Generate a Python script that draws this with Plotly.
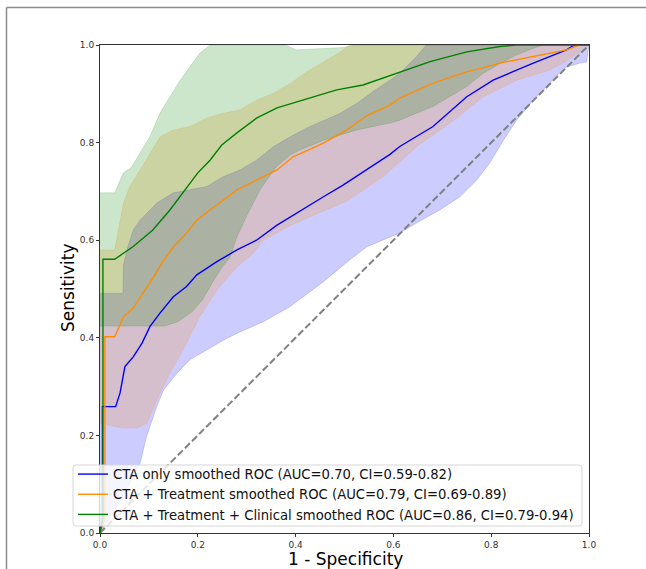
import plotly.graph_objects as go

# ---------------- data ----------------
labels = [
    "CTA only smoothed ROC (AUC=0.70, CI=0.59-0.82)",
    "CTA + Treatment smoothed ROC (AUC=0.79, CI=0.69-0.89)",
    "CTA + Treatment + Clinical smoothed ROC (AUC=0.86, CI=0.79-0.94)",
]
tick_vals = [0, 0.2, 0.4, 0.6, 0.8, 1.0]
tick_text = ["0.0", "0.2", "0.4", "0.6", "0.8", "1.0"]

# CTA only (blue)
blue_fpr = [0, 0.005, 0.005, 0.032, 0.041, 0.051, 0.068, 0.086, 0.102, 0.123, 0.15, 0.177, 0.198, 0.239, 0.28,
            0.32, 0.362, 0.402, 0.457, 0.497, 0.545, 0.593, 0.613, 0.681, 0.75, 0.804, 0.886, 0.954, 0.97, 1.0]
blue_tpr = [0, 0.03, 0.259, 0.259, 0.287, 0.341, 0.361, 0.389, 0.423, 0.451, 0.484, 0.505, 0.529, 0.556, 0.58,
            0.6, 0.631, 0.656, 0.689, 0.713, 0.744, 0.776, 0.792, 0.833, 0.894, 0.928, 0.963, 0.99, 1.0, 1.0]
blue_hi_fpr = [0, 0.047, 0.048, 0.058, 0.068, 0.082, 0.102, 0.116, 0.15, 0.184, 0.218, 0.252, 0.286, 0.32, 0.355,
               0.389, 0.423, 0.457, 0.491, 0.525, 0.559, 0.593, 0.613, 0.647, 0.667, 1.0]
blue_hi_tpr = [0.491, 0.491, 0.55, 0.59, 0.621, 0.641, 0.662, 0.676, 0.697, 0.703, 0.71, 0.73, 0.744, 0.764, 0.792,
               0.812, 0.83, 0.845, 0.86, 0.88, 0.905, 0.928, 0.942, 0.976, 1.0, 1.0]
blue_lo_fpr = [0, 0.02, 0.05, 0.07, 0.082, 0.095, 0.116, 0.13, 0.157, 0.184, 0.218, 0.252, 0.286, 0.334, 0.389,
               0.409, 0.457, 0.511, 0.545, 0.613, 0.647, 0.695, 0.736, 0.77, 0.797, 0.825, 0.852, 0.886, 0.92,
               0.94, 0.954, 0.982, 0.995, 1.0]
blue_lo_tpr = [0, 0.03, 0.08, 0.12, 0.143, 0.197, 0.259, 0.293, 0.327, 0.355, 0.375, 0.395, 0.412, 0.433, 0.464,
               0.48, 0.515, 0.56, 0.586, 0.615, 0.635, 0.662, 0.689, 0.723, 0.758, 0.805, 0.846, 0.887, 0.922,
               0.943, 0.955, 0.963, 0.965, 1.0]

# CTA + Treatment (orange)
orange_fpr = [0, 0.01, 0.01, 0.03, 0.048, 0.068, 0.088, 0.108, 0.126, 0.15, 0.177, 0.198, 0.225, 0.252, 0.28,
              0.32, 0.362, 0.395, 0.457, 0.505, 0.545, 0.593, 0.613, 0.681, 0.75, 0.818, 0.886, 0.954, 0.98, 1.0]
orange_tpr = [0, 0.03, 0.402, 0.402, 0.443, 0.461, 0.492, 0.522, 0.553, 0.586, 0.615, 0.641, 0.662, 0.682, 0.703,
              0.723, 0.744, 0.771, 0.799, 0.826, 0.855, 0.877, 0.891, 0.922, 0.945, 0.963, 0.976, 0.99, 1.0, 1.0]
orange_hi_fpr = [0, 0.03, 0.048, 0.061, 0.082, 0.102, 0.123, 0.15, 0.184, 0.218, 0.252, 0.286, 0.32, 0.355,
                 0.389, 0.423, 0.457, 0.491, 0.51, 1.0]
orange_hi_tpr = [0.58, 0.58, 0.676, 0.71, 0.744, 0.778, 0.812, 0.826, 0.833, 0.85, 0.86, 0.867, 0.887, 0.901,
                 0.921, 0.945, 0.965, 0.985, 1.0, 1.0]
orange_lo_fpr = [0, 0.047, 0.076, 0.096, 0.116, 0.143, 0.17, 0.204, 0.239, 0.28, 0.313, 0.334, 0.389, 0.457,
                 0.505, 0.579, 0.648, 0.716, 0.784, 0.852, 0.92, 0.947, 0.98, 1.0]
orange_lo_tpr = [0.225, 0.215, 0.215, 0.225, 0.272, 0.328, 0.375, 0.443, 0.498, 0.545, 0.573, 0.6, 0.63, 0.66,
                 0.68, 0.73, 0.792, 0.84, 0.894, 0.928, 0.949, 0.963, 0.985, 1.0]

# CTA + Treatment + Clinical (green)
green_fpr = [0, 0.006, 0.006, 0.03, 0.068, 0.108, 0.143, 0.174, 0.2, 0.225, 0.249, 0.28, 0.32, 0.362, 0.416,
             0.484, 0.538, 0.593, 0.675, 0.75, 0.818, 0.85, 1.0]
green_tpr = [0, 0.03, 0.561, 0.561, 0.587, 0.621, 0.662, 0.703, 0.738, 0.764, 0.795, 0.82, 0.85, 0.871, 0.887,
             0.908, 0.918, 0.937, 0.966, 0.986, 0.997, 1.0, 1.0]
green_hi_fpr = [0, 0.03, 0.048, 0.065, 0.082, 0.102, 0.123, 0.143, 0.164, 0.184, 0.204, 0.225, 0.38, 0.4, 0.45,
                0.5, 0.52, 1.0]
green_hi_tpr = [0.697, 0.697, 0.738, 0.75, 0.779, 0.812, 0.861, 0.894, 0.928, 0.956, 0.983, 1.0, 1.0, 0.99, 0.992,
                0.995, 1.0, 1.0]
green_lo_fpr = [0, 0.133, 0.159, 0.188, 0.209, 0.229, 0.25, 0.266, 0.28, 0.3, 0.327, 0.36, 0.389, 0.409, 0.457,
                0.525, 0.593, 0.613, 0.681, 0.75, 0.784, 0.818, 0.852, 0.886, 0.906, 1.0]
green_lo_tpr = [0.424, 0.424, 0.433, 0.453, 0.477, 0.512, 0.545, 0.565, 0.607, 0.65, 0.703, 0.75, 0.775, 0.785,
                0.805, 0.826, 0.84, 0.846, 0.874, 0.915, 0.942, 0.962, 0.98, 0.993, 1.0, 1.0]

diag = [0, 1]

# ---------------- figure ----------------
FONT = "DejaVu Sans"
W, H = 646, 569
L, R, T, B = 100, 57, 45, 36
pw, ph = W - L - R, H - T - B


def px_x(p):
    return (p - L) / pw


def px_y(p):
    return (H - B - p) / ph


fig = go.Figure()

series = [
    ("rgb(0,0,255)", "rgba(0,0,255,0.2)", blue_fpr, blue_tpr, blue_hi_fpr, blue_hi_tpr, blue_lo_fpr, blue_lo_tpr),
    ("rgb(255,140,0)", "rgba(255,140,0,0.2)", orange_fpr, orange_tpr, orange_hi_fpr, orange_hi_tpr, orange_lo_fpr, orange_lo_tpr),
    ("rgb(0,128,0)", "rgba(0,128,0,0.2)", green_fpr, green_tpr, green_hi_fpr, green_hi_tpr, green_lo_fpr, green_lo_tpr),
]

# confidence bands
for col, fcol, fx, fy, hx, hy, lx, ly in series:
    fig.add_trace(go.Scatter(
        x=list(hx) + list(lx)[::-1], y=list(hy) + list(ly)[::-1],
        mode="lines", fill="toself", fillcolor=fcol,
        line=dict(color=fcol, width=0.8), showlegend=False, hoverinfo="skip"))

# chance diagonal
fig.add_trace(go.Scatter(x=diag, y=diag, mode="lines",
                         line=dict(color="rgb(128,128,128)", width=2, dash="7px,3px"),
                         showlegend=False, hoverinfo="skip"))

# ROC curves
for (col, fcol, fx, fy, hx, hy, lx, ly), name in zip(series, labels):
    fig.add_trace(go.Scatter(x=fx, y=fy, mode="lines", name=name,
                             line=dict(color=col, width=1.4)))

axis_common = dict(range=[0, 1], showgrid=False, zeroline=False, showline=True, mirror=True,
                   linecolor="#333", linewidth=1, ticks="outside", ticklen=3, tickwidth=1,
                   tickcolor="#333", tickvals=tick_vals, ticktext=tick_text,
                   tickfont=dict(family=FONT, size=9, color="#333"))

fig.update_layout(
    width=W, height=H,
    margin=dict(l=L, r=R, t=T, b=B, pad=0),
    paper_bgcolor="white", plot_bgcolor="white",
    xaxis=dict(**axis_common),
    yaxis=dict(**axis_common),
    font=dict(family=FONT),
    legend=dict(x=px_x(73), y=px_y(459), xanchor="left", yanchor="top",
                bgcolor="rgba(0,0,0,0)", borderwidth=0,
                font=dict(family=FONT, size=13.2, color="#111"), tracegroupgap=0),
    showlegend=True,
)

# legend box (semi-transparent, rounded corners)
lx0, lx1, ly0, ly1, rr = 73, 582, 465, 526, 3
def P(x, y):
    return f"{px_x(x):.5f},{px_y(y):.5f}"
legend_path = (f"M {P(lx0 + rr, ly0)} L {P(lx1 - rr, ly0)} Q {P(lx1, ly0)} {P(lx1, ly0 + rr)} "
               f"L {P(lx1, ly1 - rr)} Q {P(lx1, ly1)} {P(lx1 - rr, ly1)} "
               f"L {P(lx0 + rr, ly1)} Q {P(lx0, ly1)} {P(lx0, ly1 - rr)} "
               f"L {P(lx0, ly0 + rr)} Q {P(lx0, ly0)} {P(lx0 + rr, ly0)} Z")
fig.add_shape(type="path", path=legend_path, xref="paper", yref="paper",
              fillcolor="rgba(255,255,255,0.8)", line=dict(color="rgb(215,215,215)", width=1),
              layer="above")

# axis titles
fig.add_annotation(text="1 - Specificity", xref="paper", yref="paper",
                   x=px_x(345), y=px_y(559), xanchor="center", yanchor="middle",
                   showarrow=False, borderpad=0, font=dict(family=FONT, size=17, color="black"))
fig.add_annotation(text="Sensitivity", xref="paper", yref="paper",
                   x=px_x(68), y=px_y(288), xanchor="center", yanchor="middle", textangle=-90,
                   showarrow=False, borderpad=0, font=dict(family=FONT, size=17, color="black"))

# outer frame lines (top and left visible in the reference)
frame_col = "rgb(140,140,140)"
fig.add_shape(type="line", xref="paper", yref="paper",
              x0=px_x(6.5), x1=px_x(646), y0=px_y(7.5), y1=px_y(7.5),
              line=dict(color=frame_col, width=1.5), layer="below")
fig.add_shape(type="line", xref="paper", yref="paper",
              x0=px_x(6.5), x1=px_x(6.5), y0=px_y(7.5), y1=px_y(569),
              line=dict(color=frame_col, width=1.5), layer="below")

fig.write_html("out.html", config={"displayModeBar": False},
               post_script=("document.documentElement.style.overflow='hidden';"
                            "document.body.style.overflow='hidden';"
                            "document.body.style.margin='0';"))
